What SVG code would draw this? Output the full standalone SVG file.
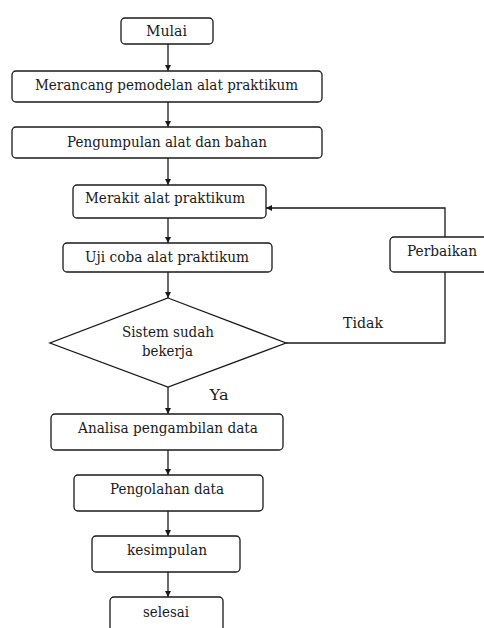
<svg xmlns="http://www.w3.org/2000/svg" width="484" height="628" viewBox="0 0 484 628">
<defs>
<marker id="ah" viewBox="0 0 10 10" refX="10" refY="5" markerWidth="6" markerHeight="6" markerUnits="userSpaceOnUse" orient="auto">
<path d="M0,0 L10,5 L0,10 z" fill="#1a1a1a"/>
</marker>
<style>
.box{fill:#fff;stroke:#1a1a1a;stroke-width:1.3}
.t{font-family:'DejaVu Serif','Liberation Serif',serif;font-size:14px;fill:#1a1a1a;text-anchor:middle}
.c{fill:none;stroke:#1a1a1a;stroke-width:1.3}
</style>
</defs>
<rect width="484" height="628" fill="#fff"/>
<g id="connectors">
<line class="c" x1="168" y1="44" x2="168" y2="71" marker-end="url(#ah)"/>
<line class="c" x1="168" y1="102" x2="168" y2="127" marker-end="url(#ah)"/>
<line class="c" x1="168" y1="158" x2="168" y2="185" marker-end="url(#ah)"/>
<line class="c" x1="168" y1="218" x2="168" y2="243" marker-end="url(#ah)"/>
<line class="c" x1="168" y1="272" x2="168" y2="298" marker-end="url(#ah)"/>
<line class="c" x1="168" y1="387" x2="168" y2="414" marker-end="url(#ah)"/>
<line class="c" x1="168" y1="450" x2="168" y2="475" marker-end="url(#ah)"/>
<line class="c" x1="168" y1="511" x2="168" y2="536" marker-end="url(#ah)"/>
<line class="c" x1="168" y1="572" x2="168" y2="597" marker-end="url(#ah)"/>
<polyline class="c" points="286,343 445,343 445,272"/>
<polyline class="c" points="445,237 445,208 266,208" marker-end="url(#ah)"/>
<text class="t" x="363" y="328" textLength="40" lengthAdjust="spacingAndGlyphs">Tidak</text>
<text class="t" x="219" y="400" textLength="19" lengthAdjust="spacingAndGlyphs">Ya</text>
</g>
<g id="mulai">
<rect class="box" x="121" y="18" width="92" height="26" rx="4"/>
<text class="t" x="166.5" y="36" textLength="41" lengthAdjust="spacingAndGlyphs">Mulai</text>
</g>
<g id="merancang">
<rect class="box" x="12" y="71" width="310" height="31" rx="4"/>
<text class="t" x="166.5" y="90" textLength="263" lengthAdjust="spacingAndGlyphs">Merancang pemodelan alat praktikum</text>
</g>
<g id="pengumpulan">
<rect class="box" x="12" y="127" width="310" height="31" rx="4"/>
<text class="t" x="167" y="147" textLength="200" lengthAdjust="spacingAndGlyphs">Pengumpulan alat dan bahan</text>
</g>
<g id="merakit">
<rect class="box" x="73" y="185" width="193" height="33" rx="4"/>
<text class="t" x="165" y="203" textLength="160" lengthAdjust="spacingAndGlyphs">Merakit alat praktikum</text>
</g>
<g id="ujicoba">
<rect class="box" x="63" y="243" width="209" height="29" rx="4"/>
<text class="t" x="167" y="262" textLength="164" lengthAdjust="spacingAndGlyphs">Uji coba alat praktikum</text>
</g>
<g id="perbaikan">
<rect class="box" x="390" y="237" width="100" height="35" rx="4"/>
<text class="t" x="442" y="256" textLength="70" lengthAdjust="spacingAndGlyphs">Perbaikan</text>
</g>
<g id="keputusan">
<polygon class="box" points="168,298 286,343 168,387 50,343"/>
<text class="t" x="168" y="337" textLength="92" lengthAdjust="spacingAndGlyphs">Sistem sudah</text>
<text class="t" x="167.5" y="356" textLength="51" lengthAdjust="spacingAndGlyphs">bekerja</text>
</g>
<g id="analisa">
<rect class="box" x="51" y="414" width="232" height="36" rx="4"/>
<text class="t" x="168" y="433" textLength="180" lengthAdjust="spacingAndGlyphs">Analisa pengambilan data</text>
</g>
<g id="pengolahan">
<rect class="box" x="74" y="475" width="189" height="36" rx="4"/>
<text class="t" x="167" y="494" textLength="114" lengthAdjust="spacingAndGlyphs">Pengolahan data</text>
</g>
<g id="kesimpulan">
<rect class="box" x="92" y="536" width="148" height="36" rx="4"/>
<text class="t" x="167" y="555" textLength="80" lengthAdjust="spacingAndGlyphs">kesimpulan</text>
</g>
<g id="selesai">
<rect class="box" x="110" y="597" width="113" height="45" rx="4"/>
<text class="t" x="166" y="617" textLength="46" lengthAdjust="spacingAndGlyphs">selesai</text>
</g>
</svg>
